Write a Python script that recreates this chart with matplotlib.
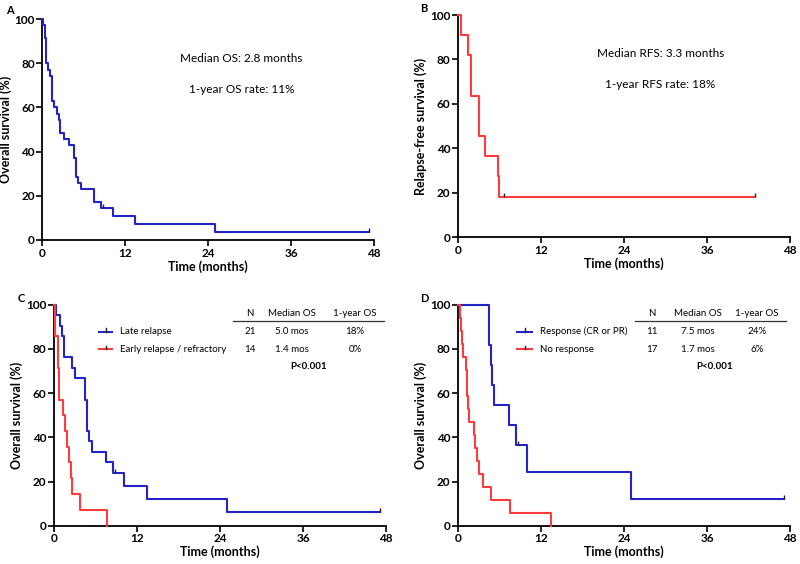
import numpy as np
import matplotlib
matplotlib.use("Agg")
import matplotlib.pyplot as plt
from matplotlib.lines import Line2D

plt.rcParams['font.family'] = ['Lato', 'DejaVu Sans']

BLUE = '#2323c8'
RED = '#ff3b3b'

# ---- Panel A: overall survival (all patients) ----
a_t = [0, 0.15, 0.35, 0.55, 0.85, 1.05, 1.4, 1.7, 2.1, 2.35, 2.6, 3.1, 3.8, 4.6, 4.9, 5.15, 5.65, 7.45, 8.5, 10.2, 13.4, 25.0, 47.3]
a_s = [100, 97.1, 91.4, 80.0, 77.1, 74.3, 62.9, 60.0, 57.1, 54.3, 48.6, 45.7, 42.9, 37.1, 28.6, 25.7, 22.9, 17.1, 14.3, 10.7, 7.1, 3.6, 3.6]
a_cens = [8.8, 47.3]

# ---- Panel B: relapse-free survival ----
b_t = [0, 0.5, 1.45, 1.95, 3.0, 3.1, 3.95, 5.8, 5.9, 43.0]
b_s = [100, 90.9, 81.8, 63.6, 54.5, 45.5, 36.4, 27.3, 18.2, 18.2]
b_cens = [6.6, 43.0]

# ---- Panel C: late relapse vs early relapse / refractory ----
c1_t = [0, 0.3, 0.85, 1.2, 1.45, 2.6, 3.1, 4.55, 4.8, 5.1, 5.5, 7.45, 8.55, 10.1, 13.4, 25.05, 47.2]
c1_s = [100, 95.2, 90.5, 85.7, 76.2, 71.4, 66.7, 57.1, 42.9, 38.1, 33.3, 28.6, 23.8, 17.9, 11.9, 6.0, 6.0]
c1_cens = [8.8, 47.2]
c2_t = [0, 0.2, 0.55, 0.75, 1.35, 1.6, 1.85, 2.15, 2.4, 2.65, 3.8, 7.7]
c2_s = [100, 85.7, 71.4, 57.1, 50.0, 42.9, 35.7, 28.6, 21.4, 14.3, 7.1, 0]
c2_cens = []

# ---- Panel D: response vs no response ----
d1_t = [0, 4.45, 4.7, 4.9, 5.15, 7.4, 8.45, 10.0, 25.0, 47.1]
d1_s = [100, 81.8, 72.7, 63.6, 54.5, 45.5, 36.4, 24.2, 12.1, 12.1]
d1_cens = [8.7, 47.1]
d2_t = [0, 0.35, 0.5, 0.6, 0.7, 1.15, 1.25, 1.35, 1.45, 1.65, 2.25, 2.4, 2.7, 3.05, 3.65, 4.8, 7.55, 13.4]
d2_s = [100, 94.1, 88.2, 82.4, 76.5, 70.6, 64.7, 58.8, 52.9, 47.1, 41.2, 35.3, 29.4, 23.5, 17.6, 11.8, 5.9, 0]
d2_cens = []

x_ticks = [0, 12, 24, 36, 48]
y_ticks = [0, 20, 40, 60, 80, 100]

c_labels = ['Late relapse', 'Early relapse / refractory']
c_table = [['21', '5.0 mos', '18%'], ['14', '1.4 mos', '0%']]
d_labels = ['Response (CR or PR)', 'No response']
d_table = [['11', '7.5 mos', '24%'], ['17', '1.7 mos', '6%']]
table_header = ['N', 'Median OS', '1-year OS']

fig = plt.figure(figsize=(8.0, 5.64), dpi=100)

W = 332 / 800
H = 221 / 564
axA = fig.add_axes([42.3 / 800, 1 - 240 / 564, W, H])
axB = fig.add_axes([458 / 800, 1 - 237 / 564, W, 222 / 564])
axC = fig.add_axes([54 / 800, 1 - 525.7 / 564, W, H])
axD = fig.add_axes([458 / 800, 1 - 525.7 / 564, W, H])


def style(ax, ylabel):
    ax.set_xlim(0, 48)
    ax.set_ylim(0, 100)
    ax.set_xticks(x_ticks)
    ax.set_yticks(y_ticks)
    for s in ['top', 'right']:
        ax.spines[s].set_visible(False)
    for s in ['left', 'bottom']:
        ax.spines[s].set_linewidth(1.3)
    ax.tick_params(direction='out', length=4, width=1.2, labelsize=8.5, pad=1.5)
    for lab in ax.get_xticklabels() + ax.get_yticklabels():
        lab.set_fontweight('bold')
    ax.set_xlabel('Time (months)', fontsize=9, fontweight='bold', labelpad=1)
    ax.set_ylabel(ylabel, fontsize=9, fontweight='bold', labelpad=2)


def km(ax, t, s, cens, color):
    ax.step(t, s, where='post', color=color, lw=1.5, clip_on=False, zorder=3)
    if cens:
        t_arr = np.asarray(t)
        s_arr = np.asarray(s)
        cy = [s_arr[np.searchsorted(t_arr, c, side='right') - 1] for c in cens]
        ax.plot(cens, cy, linestyle='none', marker=2, markersize=3,
                markeredgewidth=1.0, color='#222222', clip_on=False, zorder=4)


km(axA, a_t, a_s, a_cens, BLUE)
style(axA, 'Overall survival (%)')
axA.text(0.6, 0.82, 'Median OS: 2.8 months', transform=axA.transAxes,
         ha='center', va='center', fontsize=8.5)
axA.text(0.6, 0.68, '1-year OS rate: 11%', transform=axA.transAxes,
         ha='center', va='center', fontsize=8.5)

km(axB, b_t, b_s, b_cens, RED)
style(axB, 'Relapse-free survival (%)')
axB.text(0.61, 0.825, 'Median RFS: 3.3 months', transform=axB.transAxes,
         ha='center', va='center', fontsize=8.5)
axB.text(0.61, 0.685, '1-year RFS rate: 18%', transform=axB.transAxes,
         ha='center', va='center', fontsize=8.5)

km(axC, c1_t, c1_s, c1_cens, BLUE)
km(axC, c2_t, c2_s, c2_cens, RED)
style(axC, 'Overall survival (%)')

km(axD, d1_t, d1_s, d1_cens, BLUE)
km(axD, d2_t, d2_s, d2_cens, RED)
style(axD, 'Overall survival (%)')


def table(ax, labels, rows, leg_x0, leg_x1, col_x, line_x0, line_x1):
    y_head = (525.7 - 313.3) / 221
    y_line = (525.7 - 320.5) / 221
    y_rows = [(525.7 - 331.7) / 221, (525.7 - 349.3) / 221]
    y_p = (525.7 - 366.7) / 221
    tr = ax.transAxes
    for x, h in zip(col_x, table_header):
        ax.text(x, y_head, h, transform=tr, ha='center', va='center', fontsize=7)
    ax.add_line(Line2D([line_x0, line_x1], [y_line, y_line], transform=tr,
                       color='#333333', lw=0.9, clip_on=False))
    for yr, lab, row, col in zip(y_rows, labels, rows, [BLUE, RED]):
        ax.add_line(Line2D([leg_x0, leg_x1], [yr, yr], transform=tr,
                           color=col, lw=1.5, clip_on=False))
        xm = (leg_x0 + leg_x1) / 2
        ax.add_line(Line2D([xm, xm], [yr, yr + 0.016], transform=tr,
                           color='#222222', lw=1.0, clip_on=False))
        ax.text(leg_x1 + 0.025, yr, lab, transform=tr, ha='left', va='center', fontsize=7)
        for x, v in zip(col_x, row):
            ax.text(x, yr, v, transform=tr, ha='center', va='center', fontsize=7)
    ax.text(col_x[1] + 0.05, y_p, 'P<0.001', transform=tr, ha='center', va='center',
            fontsize=7, fontweight='bold')


table(axC, c_labels, c_table, (99 - 54) / 332, (112 - 54) / 332,
      [(250 - 54) / 332, (292 - 54) / 332, (355 - 54) / 332],
      (233 - 54) / 332, (384 - 54) / 332)
table(axD, d_labels, d_table, (517.3 - 458) / 332, (531.7 - 458) / 332,
      [(652.3 - 458) / 332, (698.3 - 458) / 332, (756.7 - 458) / 332],
      (635 - 458) / 332, (786 - 458) / 332)

fig.text(10 / 800, 1 - 10 / 564, 'A', fontsize=8, fontweight='bold', ha='center', va='center')
fig.text(424 / 800, 1 - 9 / 564, 'B', fontsize=8, fontweight='bold', ha='center', va='center')
fig.text(21 / 800, 1 - 298 / 564, 'C', fontsize=8, fontweight='bold', ha='center', va='center')
fig.text(424 / 800, 1 - 298 / 564, 'D', fontsize=8, fontweight='bold', ha='center', va='center')

fig.savefig('out.png', dpi=100)
